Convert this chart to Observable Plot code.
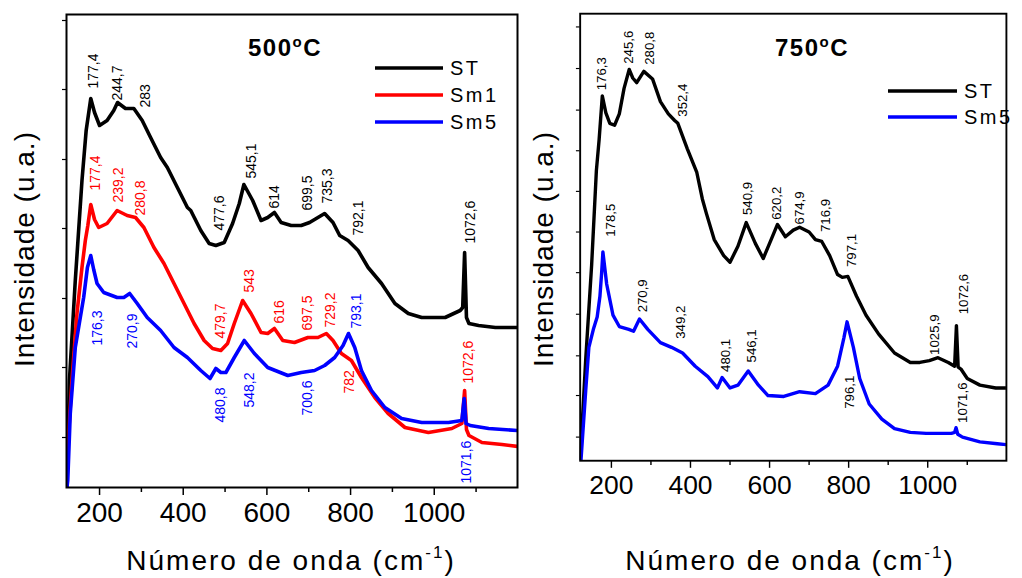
<!DOCTYPE html>
<html><head><meta charset="utf-8">
<script src="https://cdn.jsdelivr.net/npm/d3@7"></script>
<script src="https://cdn.jsdelivr.net/npm/@observablehq/plot@0.6"></script>
<style>
body{margin:0;background:#fff;}
#wrap{position:relative;width:1022px;height:578px;overflow:hidden;font-family:"Liberation Sans",Arial,sans-serif;}
#left,#right{position:absolute;top:0;}
#left{left:0;} #right{left:540px;}
#over{position:absolute;left:0;top:0;pointer-events:none;}
</style></head><body>
<div id="wrap"><div id="left"></div><div id="right"></div><svg id="over" width="1022" height="578"></svg></div>
<script>
// ---- shared axis data ----
const wavenumberDomain = [121, 1199];
const majorTicks = [200, 400, 600, 800, 1000];
const minorTicks = [300, 500, 700, 900, 1100];
const yTicks500 = [50, 120, 189, 259, 328, 398, 467];
const yTicks750 = [25, 69, 111, 155, 199, 242, 285, 328, 371, 415, 459];

// ---- 500 °C spectra: [wavenumber (cm-1), intensity (a.u.)] ----
const st500 = [[122,0],[128,107],[142,207],[158,307],[168,357],[179,389],[188,375],[200,362],[218,367],[234,377],[243,385],[262,379],[282,379],[302,367],[322,350],[346,330],[362,320],[386,300],[410,280],[418,277],[442,257],[462,244],[478,242],[498,245],[518,264],[534,284],[545,303],[566,287],[586,267],[602,270],[618,275],[634,265],[658,262],[682,262],[702,265],[722,270],[738,274],[758,265],[774,252],[794,247],[818,237],[842,220],[874,204],[906,184],[938,174],[970,170],[1026,170],[1062,177],[1068,180],[1072.6,235],[1077,170],[1083,164],[1106,162],[1146,160],[1199,160]];
const sm1_500 = [[122,0],[124,40],[134,107],[146,174],[158,220],[166,247],[172,262],[179,283],[188,268],[198,260],[218,264],[242,277],[266,272],[286,270],[306,260],[330,240],[354,224],[378,204],[402,184],[426,164],[450,147],[470,139],[490,137],[506,144],[522,164],[542,187],[562,174],[586,155],[602,154],[618,159],[638,147],[666,145],[698,150],[722,150],[742,154],[758,147],[778,134],[802,127],[826,110],[858,90],[890,74],[930,60],[986,55],[1042,59],[1066,64],[1072.6,97],[1077,58],[1083,52],[1114,45],[1162,43],[1199,41]];
const sm5_500 = [[122,0],[124,7],[130,74],[142,140],[162,190],[171,220],[179,232],[186,218],[194,204],[210,195],[242,190],[258,190],[272,194],[290,184],[314,170],[346,157],[378,140],[410,130],[442,117],[464,109],[478,119],[490,115],[502,115],[522,130],[546,147],[570,134],[602,120],[650,112],[682,115],[714,117],[738,122],[762,130],[782,142],[795,154],[810,140],[826,117],[850,97],[882,80],[922,69],[970,65],[1034,65],[1066,67],[1071.6,89],[1076,64],[1086,62],[1130,59],[1199,57]];

// ---- 750 °C spectra ----
const st750 = [[121,0],[135,107],[150,207],[162,307],[169,340],[177,386],[186,368],[196,357],[208,355],[220,367],[232,394],[245,414],[254,405],[264,400],[282,412],[304,404],[324,380],[344,367],[360,360],[368,357],[392,330],[416,305],[430,277],[440,262],[460,234],[484,217],[500,210],[520,227],[541,252],[564,230],[584,214],[604,234],[620,250],[640,237],[660,244],[676,247],[700,242],[716,234],[732,232],[752,217],[772,197],[784,194],[798,195],[820,174],[844,154],[876,134],[916,114],[956,104],[980,104],[1004,106],[1026,109],[1052,104],[1068,100],[1072.6,143],[1077,99],[1084,97],[1100,87],[1132,80],[1172,77],[1199,77]];
const sm5_750 = [[123,0],[135,74],[143,120],[155,140],[164,152],[171,174],[175,197],[178.5,221],[188,187],[204,154],[220,142],[244,139],[256,137],[271,150],[292,139],[324,125],[352,120],[380,114],[412,100],[444,89],[468,77],[480,88],[500,77],[520,80],[546,95],[572,80],[596,69],[636,68],[676,73],[716,71],[748,80],[772,100],[788,130],[796,147],[812,120],[828,87],[852,60],[884,44],[916,34],[956,30],[996,29],[1060,29],[1068,30],[1071.6,35],[1076,28],[1088,25],[1132,20],[1176,18],[1199,17]];

// ---- peak labels: [text, wavenumber position, intensity at text start] ----
const labels500_ST = [["177,4",186,399],["244,7",242,387],["283",310,380],["477,6",486,257],["545,1",563,309],["614",618,279],["699,5",698,277],["735,3",746,284],["792,1",818,252],["1072,6",1086,244]];
const labels500_Sm1 = [["177,4",190,297],["239,2",246,285],["280,8",298,272],["479,7",488,149],["543",558,195],["616",630,164],["697,5",698,157],["729,2",752,160],["782",798,94],["1072,6",1083,104]];
const labels500_Sm5 = [["176,3",195,142],["270,9",278,139],["480,8",488,65],["548,2",558,80],["700,6",698,72],["793,1",814,159],["1071,6",1078,4]];
const labels750_ST = [["176,3",176,392],["245,6",244,420],["280,8",296,419],["352,4",380,364],["540,9",544,260],["620,2",618,255],["674,9",676,250],["716,9",742,242],["797,1",808,205],["1025,9",1018,112],["1072,6",1092,155]];
const labels750_Sm5 = [["178,5",198,237],["270,9",280,157],["349,2",376,129],["480,1",488,94],["546,1",556,104],["796,1",804,55],["1071,6",1088,40]];

// ---- series names / colours ----
const names500 = ["ST", "Sm1", "Sm5"];
const names750 = ["ST", "Sm5"];
const colors = {ST: "#000000", Sm1: "#ff0000", Sm5: "#0000ff"};
const titles = ["500", "750"];
const xTitle = "Número de onda (cm";
const yTitle = "Intensidade (u.a.)";

function panel({width, marginLeft, marginRight, series, labelSets, yTicks}) {
  const marks = [
    Plot.axisX({ticks: minorTicks, tickSize: 5, strokeWidth: 1.5, tickFormat: () => "", label: null}),
    Plot.axisX({ticks: majorTicks, tickSize: 8, tickPadding: 7, strokeWidth: 1.5, fontSize: 28, tickFormat: d => String(d), label: null, fill: "#000"}),
    Plot.axisY({ticks: yTicks, tickSize: 4, strokeWidth: 1.2, tickFormat: () => "", label: null})
  ];
  for (const s of series) {
    marks.push(Plot.line(s.data, {x: d => d[0], y: d => d[1], stroke: s.color, strokeWidth: 3.6, strokeLinejoin: "round", clip: true}));
  }
  for (const L of labelSets) {
    marks.push(Plot.text(L.data, {x: d => d[1], y: d => d[2], text: d => d[0], fill: L.color, rotate: -90, textAnchor: "start", lineAnchor: "middle", fontSize: 14}));
  }
  marks.push(Plot.frame({stroke: "#000", strokeWidth: 2}));
  return Plot.plot({
    width, height: 578, marginTop: 14, marginBottom: 91, marginLeft, marginRight,
    x: {domain: wavenumberDomain, label: null},
    y: {domain: [0, 473], label: null},
    style: {fontFamily: "'Liberation Sans', Arial, sans-serif", background: "transparent", color: "#000"},
    marks
  });
}

document.getElementById("left").append(panel({
  width: 530, marginLeft: 66, marginRight: 13, yTicks: yTicks500,
  series: [{data: st500, color: colors.ST}, {data: sm1_500, color: colors.Sm1}, {data: sm5_500, color: colors.Sm5}],
  labelSets: [{data: labels500_ST, color: colors.ST}, {data: labels500_Sm1, color: colors.Sm1}, {data: labels500_Sm5, color: colors.Sm5}]
}));
document.getElementById("right").append(panel({
  width: 510, marginLeft: 42, marginRight: 17, yTicks: yTicks750,
  series: [{data: st750, color: colors.ST}, {data: sm5_750, color: colors.Sm5}],
  labelSets: [{data: labels750_ST, color: "#000"}, {data: labels750_Sm5, color: "#000"}]
}));

// ---- overlay: titles, legends, axis titles ----
const over = d3.select("#over").style("font-family", "'Liberation Sans', Arial, sans-serif");
const titlePos = [{x: 248, y: 56}, {x: 775, y: 56}];
titles.forEach((t, i) => {
  const tx = over.append("text").attr("x", titlePos[i].x).attr("y", titlePos[i].y)
    .attr("font-size", 24).attr("font-weight", "bold").attr("letter-spacing", 1.5);
  tx.append("tspan").text(t);
  tx.append("tspan").attr("font-size", 15).attr("dy", -9).text("o");
  tx.append("tspan").attr("dy", 9).text("C");
});
function legend(names, x0, x1, y0, step) {
  names.forEach((n, i) => {
    const y = y0 + i * step;
    over.append("line").attr("x1", x0).attr("x2", x1).attr("y1", y).attr("y2", y)
      .attr("stroke", colors[n]).attr("stroke-width", 3.6);
    over.append("text").attr("x", x1 + 7).attr("y", y + 7).attr("font-size", 20)
      .attr("letter-spacing", 2.5).text(n);
  });
}
legend(names500, 375, 443, 68, 27);
legend(names750, 888, 957, 91, 26);

[{x: 291}, {x: 790}].forEach(p => {
  const tx = over.append("text").attr("x", p.x).attr("y", 570).attr("text-anchor", "middle")
    .attr("font-size", 28).attr("letter-spacing", 2);
  tx.append("tspan").text(xTitle);
  tx.append("tspan").attr("font-size", 17).attr("dy", -12).text("-1");
  tx.append("tspan").attr("dy", 12).text(")");
});
[{x: 33.5}, {x: 553}].forEach(p => {
  over.append("text").attr("transform", `translate(${p.x},249) rotate(-90)`)
    .attr("text-anchor", "middle").attr("font-size", 28).attr("letter-spacing", 1).text(yTitle);
});
</script>
</body></html>
